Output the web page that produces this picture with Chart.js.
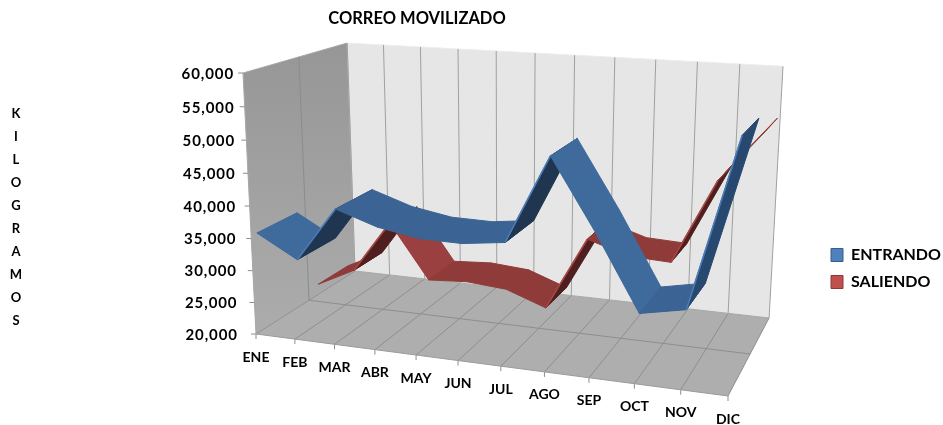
<!DOCTYPE html>
<html><head><meta charset="utf-8">
<script src="https://cdn.jsdelivr.net/npm/chart.js@4"></script>
<style>html,body{margin:0;padding:0;background:#fff}#w{width:943px;height:425px;position:relative}</style>
</head><body><div id="w"><canvas id="c" width="943" height="425"></canvas></div>
<script>
const categories = ['ENE','FEB','MAR','ABR','MAY','JUN','JUL','AGO','SEP','OCT','NOV','DIC'];
const entrando = [35400,31900,40300,38200,37100,37000,37800,50800,40600,29600,30900,55600];
const saliendo = [21700,24800,33400,24600,25000,24500,22200,33900,31900,31600,44700,52500];
const yTitleLetters = ['K','I','L','O','G','R','A','M','O','S'];
const chartTitle = 'CORREO MOVILIZADO';
const FONT = 'Lato, sans-serif';

// perspective camera: the unit box (u across, v up, d in depth) onto the page
const O=[256,334], XU=[728,396], XV=[243,73], XD=[355,271], A=.898, B=.962, C=1.15;
function proj(u,v,d){
  const w=1+(A-1)*u+(B-1)*v+(C-1)*d;
  const f=i=>(O[i]+u*(A*XU[i]-O[i])+v*(B*XV[i]-O[i])+d*(C*XD[i]-O[i]))/w;
  return [f(0)+7*u*v, f(1)-2.5*u*v];
}
function poly(ctx,pts,fill,stroke,lw){
  ctx.beginPath();pts.forEach((p,i)=>i?ctx.lineTo(p[0],p[1]):ctx.moveTo(p[0],p[1]));ctx.closePath();
  if(fill){ctx.fillStyle=fill;ctx.fill();}
  if(stroke){ctx.strokeStyle=stroke;ctx.lineWidth=lw||1;ctx.stroke();}
}
function seg(ctx,a,b,col,lw){ctx.beginPath();ctx.moveTo(a[0],a[1]);ctx.lineTo(b[0],b[1]);ctx.strokeStyle=col;ctx.lineWidth=lw||1;ctx.stroke();}

const ribbons=[
 {ds:1,d0:.6,d1:.92,fall:'#9A4040',flat:'#8E3B3A',under:'#4F1F1F',steep:'#5A2422',edge:'#A84845'},
 {ds:0,d0:.05,d1:.42,fall:'#3E6A9C',flat:'#3B6393',under:'#1F3550',steep:'#28496F',edge:'#4A7DB8'}
];

const box3d={id:'box3d',
 afterLayout(chart){
  const l=chart.legend,t=chart.titleBlock;
  const lw=l.right-l.left,lh=l.bottom-l.top;
  l.left=820;l.right=820+lw;l.top=236;l.bottom=236+lh;
  const tw=t.right-t.left;t.left=417-tw/2;t.right=417+tw/2;
 },
 beforeDatasetsDraw(chart){
  const ctx=chart.ctx,xs=chart.scales.x,ys=chart.scales.y;
  const U=i=>(xs.getPixelForValue(i)-xs.left)/xs.width;
  const V=val=>(ys.bottom-ys.getPixelForValue(val))/ys.height;
  ctx.save();
  // walls and floor
  const lg=ctx.createLinearGradient(0,40,0,334);lg.addColorStop(0,'#969696');lg.addColorStop(1,'#ACACAC');
  poly(ctx,[proj(0,0,0),proj(0,1,0),proj(0,1,1),proj(0,0,1)],lg);
  poly(ctx,[proj(0,0,1),proj(0,1,1),proj(1,1,1),proj(1,0,1)],'#E6E6E6');
  poly(ctx,[proj(0,0,0),proj(1,0,0),proj(1,0,1),proj(0,0,1)],'#AEAEAE');
  seg(ctx,proj(0,1,0),proj(0,1,1),'#A6A6A6');
  seg(ctx,proj(0,1,1),proj(1,1,1),'#EDEDED');
  seg(ctx,proj(0,.0,.5),proj(0,1,.5),'#8C8C8C');
  seg(ctx,proj(0,0,1),proj(0,1,1),'#BDBDBD');
  categories.forEach((c,i)=>{
    const u=U(i);
    seg(ctx,proj(u,0,1),proj(u,1,1),'#A0A0A0');
    seg(ctx,proj(u,0,0),proj(u,0,1),'#8E8E8E');
    const p=proj(u,0,0);
    seg(ctx,p,[p[0],p[1]+5],'#8E8E8E');
  });
  seg(ctx,proj(0,0,.5),proj(1,0,.5),'#8E8E8E');
  seg(ctx,proj(0,0,0),proj(1,0,0),'#9A9A9A');
  seg(ctx,proj(0,0,1),proj(1,0,1),'#A8A8A8');
  seg(ctx,proj(0,0,0),proj(0,1,0),'#A6A6A6');
  // value ticks and labels
  ctx.fillStyle='#000';ctx.textBaseline='middle';
  ctx.font='700 15px '+FONT;ctx.textAlign='right';ctx.letterSpacing='0.9px';
  ys.ticks.forEach(t=>{
    const p=proj(0,V(t.value),0);
    seg(ctx,[p[0]-5,p[1]],p,'#8E8E8E');
    ctx.fillStyle='#000';ctx.fillText(t.label,234+(p[0]-243)*.3,p[1]+1);
  });
  ctx.letterSpacing='0px';
  // category labels
  ctx.font='700 14px '+FONT;ctx.textAlign='center';ctx.fillStyle='#000';
  xs.ticks.forEach((t,i)=>{
    const p=proj(U(i),0,0);
    ctx.fillText(t.label,p[0],p[1]+23);
  });
  // stacked axis title
  ctx.font='700 13px '+FONT;
  yTitleLetters.forEach((ch,i)=>ctx.fillText(ch,16,114+i*23));
  // ribbons, back series first
  ribbons.forEach(r=>{
    const vals=chart.data.datasets[r.ds].data;
    for(let i=0;i<vals.length-1;i++){
      const u0=U(i),u1=U(i+1),v0=V(vals[i]),v1=V(vals[i+1]);
      const q=[proj(u0,v0,r.d0),proj(u0,v0,r.d1),proj(u1,v1,r.d1),proj(u1,v1,r.d0)];
      let area=0;q.forEach((p,k)=>{const n=q[(k+1)%4];area+=p[0]*n[1]-n[0]*p[1];});
      const under=area<0;
      const rise=v1-v0;
      const col=under?(rise>.45?r.steep:r.under):(rise<-.08?r.fall:r.flat);
      poly(ctx,q,col,col,1);
      if(under) seg(ctx,q[0],q[3],r.edge,1.6);
    }
  });
  ctx.restore();
 }
};

new Chart(document.getElementById('c'),{
 type:'line',
 data:{labels:categories,datasets:[
  {label:'ENTRANDO',data:entrando,backgroundColor:'#4F81BD',borderColor:'#385D8A',borderWidth:1,showLine:false,pointRadius:0,pointHoverRadius:0},
  {label:'SALIENDO',data:saliendo,backgroundColor:'#C0504D',borderColor:'#8C3836',borderWidth:1,showLine:false,pointRadius:0,pointHoverRadius:0}
 ]},
 options:{
  responsive:false,animation:false,
  events:[],
  layout:{padding:{left:150,right:0,top:0,bottom:0}},
  scales:{
   x:{display:false,offset:false,ticks:{autoSkip:false}},
   y:{display:false,min:20000,max:60000,ticks:{stepSize:5000,callback:v=>v.toLocaleString('en-US')}}
  },
  plugins:{
   tooltip:{enabled:false},
   title:{display:true,text:chartTitle,color:'#000',font:{family:FONT,size:16.5,weight:'700'},padding:{top:9,bottom:6},position:'top',fullSize:false},
   legend:{display:true,position:'right',align:'start',
     labels:{boxWidth:12,boxHeight:13,padding:11,color:'#000',font:{family:FONT,size:16,weight:'700'}}}
  }
 },
 plugins:[box3d]
});
</script></body></html>
